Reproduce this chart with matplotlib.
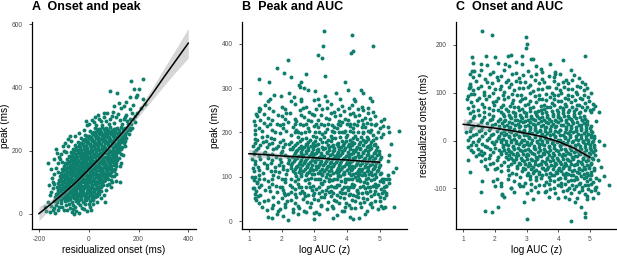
import numpy as np
import matplotlib
matplotlib.use("Agg")
import matplotlib.pyplot as plt

plt.rcParams['font.family'] = ['Liberation Sans', 'DejaVu Sans']
plt.rcParams['axes.unicode_minus'] = False

# ---------------- data ----------------
titles = ["A  Onset and peak", "B  Peak and AUC", "C  Onset and AUC"]
xlabels = ["residualized onset (ms)", "log AUC (z)", "log AUC (z)"]
ylabels = ["peak (ms)", "peak (ms)", "residualized onset (ms)"]

# Panel A: (residualized onset, peak)
onset_peak_A = [
 (-140,41),(-126,38),(-111,43),(-97,39),(-82,42),(-68,37),(-53,41),(-39,44),(-24,38),(-10,42),(5,39),(19,44),
 (-134,52),(-119,49),(-104,54),(-90,50),(-75,53),(-61,48),(-46,52),(-32,55),(-17,50),(-3,53),(12,49),(27,52),
 (-131,63),(-116,60),(-101,65),(-87,61),(-72,64),(-58,59),(-43,63),(-29,66),(-14,61),(0,64),(15,60),(30,63),(42,61),
 (-125,74),(-110,71),(-95,76),(-81,72),(-66,75),(-52,70),(-37,74),(-23,77),(-8,72),(6,75),(21,71),(36,74),(48,72),
 (-128,85),(-113,82),(-98,87),(-84,83),(-69,86),(-55,81),(-40,85),(-26,88),(-11,83),(3,86),(18,82),(33,85),(50,83),
 (-122,96),(-107,93),(-92,98),(-78,94),(-63,97),(-49,92),(-34,96),(-20,99),(-5,94),(9,97),(24,93),(39,96),(55,94),
 (-120,107),(-105,104),(-90,109),(-76,105),(-61,108),(-47,103),(-32,107),(-18,110),(-3,105),(11,108),(26,104),(41,107),(56,105),(66,108),
 (-116,118),(-101,115),(-86,120),(-72,116),(-57,119),(-43,114),(-28,118),(-14,121),(1,116),(15,119),(30,115),(45,118),(60,116),(73,119),
 (-112,129),(-97,126),(-82,131),(-68,127),(-53,130),(-39,125),(-24,129),(-10,132),(5,127),(19,130),(34,126),(49,129),(64,127),(79,130),
 (-106,140),(-91,137),(-76,142),(-62,138),(-47,141),(-33,136),(-18,140),(-4,143),(11,138),(25,141),(40,137),(55,140),(70,138),(85,141),
 (-100,151),(-85,148),(-70,153),(-56,149),(-41,152),(-27,147),(-12,151),(2,154),(17,149),(31,152),(46,148),(61,151),(76,149),(90,152),
 (-95,162),(-80,159),(-65,164),(-51,160),(-36,163),(-22,158),(-7,162),(7,165),(22,160),(36,163),(51,159),(66,162),(81,160),(96,163),
 (-88,173),(-73,170),(-58,175),(-44,171),(-29,174),(-15,169),(0,173),(14,176),(29,171),(43,174),(58,170),(73,173),(88,171),(101,174),
 (-80,184),(-65,181),(-50,186),(-36,182),(-21,185),(-7,180),(8,184),(22,187),(37,182),(51,185),(66,181),(81,184),(96,182),(108,185),
 (-73,195),(-58,192),(-43,197),(-29,193),(-14,196),(0,191),(15,195),(29,198),(44,193),(58,196),(73,192),(88,195),(103,193),(113,196),
 (-64,206),(-49,203),(-34,208),(-20,204),(-5,207),(9,202),(24,206),(38,209),(53,204),(67,207),(82,203),(97,206),(112,204),
 (-55,217),(-40,214),(-25,219),(-11,215),(4,218),(18,213),(33,217),(47,220),(62,215),(76,218),(91,214),(106,217),(121,215),
 (-45,228),(-30,225),(-15,230),(-1,226),(14,229),(28,224),(43,228),(57,231),(72,226),(86,229),(101,225),(116,228),(130,226),
 (-30,239),(-15,236),(0,241),(14,237),(29,240),(43,235),(58,239),(72,242),(87,237),(101,240),(116,236),(131,239),
 (-14,250),(1,247),(16,252),(30,248),(45,251),(59,246),(74,250),(88,253),(103,248),(117,251),(132,247),(145,250),
 (5,261),(20,258),(35,263),(49,259),(64,262),(78,257),(93,261),(107,264),(122,259),(138,262),(150,258),
 (25,272),(40,269),(55,274),(70,270),(85,273),(100,268),(115,272),(130,275),(145,270),(158,273),
 (-133,47),(-118,45),(-104,48),(-89,44),(-75,46),(-60,49),(-46,45),(-31,47),(-17,44),(-2,48),(12,46),
 (-127,58),(-112,56),(-97,59),(-83,55),(-68,57),(-54,60),(-39,56),(-25,58),(-10,55),(4,59),(19,57),(34,56),
 (-124,69),(-109,67),(-94,70),(-80,66),(-65,68),(-51,71),(-36,67),(-22,69),(-7,66),(8,70),(22,68),(37,67),
 (-120,80),(-105,78),(-90,81),(-76,77),(-61,79),(-47,82),(-32,78),(-18,80),(-3,77),(11,81),(26,79),(42,78),
 (-118,91),(-103,89),(-88,92),(-74,88),(-59,90),(-45,93),(-30,89),(-16,91),(-1,88),(13,92),(28,90),(44,89),(58,91),
 (-114,102),(-99,100),(-84,103),(-70,99),(-55,101),(-41,104),(-26,100),(-12,102),(3,99),(17,103),(32,101),(47,100),(62,102),
 (-110,113),(-95,111),(-80,114),(-66,110),(-51,112),(-37,115),(-22,111),(-8,113),(7,110),(21,114),(36,112),(51,111),(66,113),(78,110),
 (-106,124),(-91,122),(-76,125),(-62,121),(-47,123),(-33,126),(-18,122),(-4,124),(11,121),(25,125),(40,123),(55,122),(70,124),(84,121),
 (-102,135),(-87,133),(-72,136),(-58,132),(-43,134),(-29,137),(-14,133),(0,135),(15,132),(29,136),(44,134),(59,133),(74,135),(88,132),
 (-96,146),(-81,144),(-66,147),(-52,143),(-37,145),(-23,148),(-8,144),(6,146),(21,143),(35,147),(50,145),(65,144),(80,146),(94,143),
 (-90,157),(-75,155),(-60,158),(-46,154),(-31,156),(-17,159),(-2,155),(12,157),(27,154),(41,158),(56,156),(71,155),(86,157),(100,154),
 (-84,168),(-69,166),(-54,169),(-40,165),(-25,167),(-11,170),(4,166),(18,168),(33,165),(47,169),(62,167),(77,166),(92,168),(104,165),
 (-77,179),(-62,177),(-47,180),(-33,176),(-18,178),(-4,181),(11,177),(25,179),(40,176),(54,180),(69,178),(84,177),(99,179),(110,176),
 (-68,190),(-53,188),(-38,191),(-24,187),(-9,189),(5,192),(20,188),(34,190),(49,187),(63,191),(78,189),(93,188),(107,190),
 (-60,201),(-45,199),(-30,202),(-16,198),(-1,200),(13,203),(28,199),(42,201),(57,198),(71,202),(86,200),(101,199),(116,201),
 (-50,212),(-35,210),(-20,213),(-6,209),(9,211),(23,214),(38,210),(52,212),(67,209),(81,213),(96,211),(111,210),(124,212),
 (-38,223),(-23,221),(-8,224),(6,220),(21,222),(35,225),(50,221),(64,223),(79,220),(93,224),(108,222),(123,221),
 (-22,234),(-7,232),(8,235),(22,231),(37,233),(51,236),(66,232),(80,234),(95,231),(109,235),(124,233),(137,232),
 (-6,245),(9,243),(24,246),(38,242),(53,244),(67,247),(82,243),(96,245),(111,242),(125,246),(139,244),
 (12,256),(27,254),(42,257),(56,253),(71,255),(85,258),(100,254),(114,256),(129,253),(143,257),
 (32,267),(47,265),(62,268),(77,264),(92,266),(107,269),(122,265),(137,267),(152,264),
 (-170,8),(-156,6),(-139,17),(-123,12),(-150,24),(-106,20),(-89,12),(-69,6),(-55,22),(-35,28),(-163,36),
 (35,38),(64,38),(48,50),(60,60),(70,75),(91,86),(111,102),(80,95),(111,125),(100,118),(104,140),(111,160),
 (124,150),(120,175),(130,190),(135,210),(140,225),(150,240),(160,252),(165,265),(175,270),(170,285),(178,300),
 (185,310),(-163,160),(-127,192),(-83,213),(-100,200),(-149,112),(-123,133),(-140,95),(-145,80),(-155,60),
 (-115,172),(-108,165),(-70,230),(-55,245),(-40,255),(-20,265),(-5,280),(20,290),(37,313),(60,305),(50,295),
 (85,300),(110,305),(125,298),(140,300),(155,292),(97,322),(128,335),(148,313),(164,330),(172,318),(84,387),
 (113,382),(167,371),(190,368),(220,363),(228,347),(183,395),(201,395),(168,421),(217,428),(-60,0),(-40,2),
 (-20,15),(0,30),(-175,20),
 (-145,12),(-132,28),(-118,20),(-112,33),(-98,10),(-92,26),(-80,32),(-76,18),(-62,28),(-50,8),(-45,33),(-28,18),
 (-15,30),(-8,8),(5,22),(18,30),(-135,2),(-65,15),(10,12),
 (-150,70),(-142,100),(-138,125),(-132,145),(-125,160),(-118,180),(-110,190),(-102,215),(-95,225),(-90,195),
 (-160,90),(-150,140),(-140,172),(-85,235),(-75,245),(-130,205),
 (0,285),(15,298),(30,280),(42,300),(55,282),(68,292),(80,283),(92,310),(102,288),(118,315),(132,285),(145,305),
 (158,285),(165,300),(185,290),(195,320),(210,335),(75,320),(-10,295),(25,305),(60,320),(120,350),(140,340),
 (100,340),(178,345),(195,375),(150,355),
 (95,120),(100,135),(108,150),(115,170),(122,195),(128,205),(130,240),(145,230),(150,260),(160,270),(120,250),
 (125,100),(88,108),(75,90),(92,100),(130,160),(138,185),(145,215),
]

# Panel B: (log AUC, peak)
auc_peak_B = [
 (3.30,429),(3.28,395),(4.17,420),(4.19,383),(4.14,380),(4.81,394),(3.11,374),(3.23,368),(2.19,363),(1.86,345),
 (2.06,335),(3.32,327),(2.74,332),(1.30,321),(2.29,324),(2.59,313),(1.61,314),(3.94,313),(2.56,302),(2.52,307),
 (2.22,290),(1.34,290),(2.70,300),(2.82,296),(3.02,294),(3.68,290),(4.03,296),(4.44,296),(4.48,289),(3.32,283),
 (1.76,285),(1.99,283),(2.39,281),(2.58,270),(3.13,276),(4.21,276),(4.78,270),(1.30,255),(1.34,252),(1.32,249),
 (1.60,270),(1.57,10),(1.72,8),(1.87,15),(2.20,2),(2.05,11),(3.00,4),(2.99,18),(3.15,17),(3.56,8),(4.19,4),
 (4.36,8),(5.16,32),(5.45,33),(1.23,47),(1.18,61),(1.13,74),(1.25,87),(5.59,204),(5.50,120),(5.21,80),(2.50,15),
 (2.75,20),(3.70,14),(3.90,22),(4.55,16),(4.10,10),(2.35,20),(1.95,28),(5.30,150),(5.35,175),(5.25,135),(5.40,110),
 (5.30,95),(5.20,60),(5.28,200),(5.15,230),(1.10,100),(1.12,120),(1.10,140),(1.15,155),(1.12,170),(1.18,185),
 (1.20,205),(1.15,225),(1.22,242),
 (1.55,26),(1.90,22),(2.35,28),(2.70,24),(3.05,21),(3.40,27),(3.85,23),(4.25,29),(4.60,24),(4.95,27),
 (1.40,32),(1.72,30),(2.12,33),(2.52,29),(2.88,31),(3.22,34),(3.58,30),(3.95,32),(4.12,29),(4.42,33),(4.78,31),(5.10,30),
 (1.30,40),(1.75,36),(2.10,39),(2.50,35),(2.90,41),(3.20,37),(3.55,34),(3.75,40),(4.05,36),(4.40,42),(4.70,38),(5.05,35),
 (1.45,45),(1.90,43),(2.18,46),(2.42,42),(2.78,44),(3.10,47),(3.42,43),(3.68,45),(3.98,42),(4.25,46),(4.52,44),(4.75,41),(5.00,45),
 (1.20,52),(1.60,48),(2.00,53),(2.30,47),(2.65,51),(3.00,49),(3.30,54),(3.60,47),(3.90,52),(4.15,48),(4.35,55),(4.60,50),(4.85,46),(5.15,52),
 (1.28,57),(1.75,55),(2.12,58),(2.45,54),(2.72,56),(2.95,59),(3.22,55),(3.50,57),(3.80,54),(4.05,58),(4.28,56),(4.50,53),(4.75,57),(5.00,55),
 (1.35,60),(1.85,65),(2.20,61),(2.55,64),(2.80,59),(3.15,63),(3.45,66),(3.70,60),(3.95,64),(4.20,58),(4.45,63),(4.70,67),(4.95,61),(5.20,64),
 (2.08,63),(2.40,62),(2.68,64),(3.00,63),(3.32,62),(3.58,64),(3.85,63),(4.10,62),(4.35,64),(4.60,63),(4.82,62),(5.08,64),
 (1.22,69),(1.65,67),(2.05,70),(2.30,66),(2.62,68),(2.92,71),(3.25,67),(3.52,69),(3.78,66),(4.02,70),(4.32,68),(4.58,65),(4.85,69),(5.12,67),
 (1.15,75),(1.50,71),(1.95,76),(2.40,72),(2.75,77),(3.05,73),(3.35,70),(3.60,76),(3.85,72),(4.10,78),(4.30,71),(4.55,75),(4.80,79),(5.05,73),
 (1.30,77),(1.62,78),(2.02,77),(2.33,76),(2.52,78),(2.88,77),(3.15,76),(3.42,78),(3.68,77),(3.92,76),(4.18,78),(4.40,77),(4.65,76),(4.90,78),(5.15,77),
 (1.38,81),(1.82,79),(2.25,82),(2.60,78),(2.95,80),(3.25,83),(3.50,79),(3.75,81),(4.00,78),(4.22,82),(4.48,80),(4.70,77),(4.95,81),(5.20,79),
 (1.25,88),(1.70,84),(2.10,89),(2.50,83),(2.85,87),(3.20,85),(3.45,90),(3.70,82),(3.95,88),(4.15,84),(4.40,91),(4.60,86),(4.85,83),(5.10,89),(5.30,85),
 (1.15,93),(1.58,91),(2.00,94),(2.40,90),(2.72,92),(3.02,95),(3.30,91),(3.55,93),(3.82,90),(4.05,94),(4.30,92),(4.52,89),(4.75,93),(5.00,91),(5.22,94),
 (1.32,95),(1.70,96),(2.12,95),(2.50,94),(2.82,96),(3.18,95),(3.45,94),(3.70,96),(3.95,95),(4.15,94),(4.38,96),(4.58,95),(4.82,94),(5.08,96),
 (1.20,99),(1.45,95),(1.90,100),(2.30,96),(2.60,101),(2.90,97),(3.10,94),(3.35,100),(3.60,96),(3.80,102),(4.00,95),(4.25,99),(4.45,103),(4.65,97),(4.90,100),(5.15,95),
 (1.32,105),(1.75,103),(2.15,106),(2.45,102),(2.75,104),(3.00,107),(3.25,103),(3.48,105),(3.72,102),(3.92,106),(4.12,104),(4.35,101),(4.55,105),(4.78,103),(5.02,106),(5.25,104),
 (2.42,108),(2.60,107),(2.78,108),(2.92,106),(3.10,108),(3.25,107),(3.40,106),(3.58,108),(3.72,107),(3.88,106),(4.05,108),(4.20,107),(4.38,106),(4.52,108),(4.68,107),(4.85,106),(5.05,108),
 (1.15,112),(1.42,108),(1.68,114),(1.92,110),(2.17,116),(1.28,123),(1.55,127),(1.80,121),(2.05,125),(2.30,120),
 (1.18,135),(1.45,132),(1.70,138),(1.97,134),(2.22,137),(1.32,147),(1.58,150),(1.83,145),(2.10,149),
 (1.22,160),(1.48,157),(1.75,162),(2.00,159),(2.25,163),(1.35,171),(1.62,174),(1.88,169),(2.12,173),
 (1.25,184),(1.52,181),(1.78,186),(2.05,183),(2.30,179),
 (1.30,116),(1.55,119),(1.80,113),(2.05,117),(1.20,129),(1.68,131),(1.92,127),(2.20,130),(1.35,141),(1.60,143),
 (1.95,141),(2.20,144),(1.15,152),(1.45,154),(1.72,151),(1.98,153),(1.28,166),(1.55,168),(1.82,165),(2.05,167),
 (1.18,177),(1.42,179),(1.70,176),(1.95,178),(2.22,175),(1.40,190),(1.68,188),
 (2.50,189),(2.75,188),(3.05,190),(3.30,189),(3.55,188),(3.78,190),(3.98,189),(4.20,188),(4.42,190),(4.62,189),(4.88,188),(5.05,190),
 (1.20,196),(1.55,192),(1.95,198),(2.30,194),(2.60,199),(2.95,191),(3.25,197),(3.50,193),(3.75,200),(4.00,195),(4.25,191),(4.50,198),(4.80,194),(5.10,197),
 (2.42,201),(2.72,200),(3.02,202),(3.32,201),(3.62,200),(3.92,202),(4.18,201),(4.48,200),(4.72,202),
 (1.40,203),(1.80,201),(2.15,204),(2.50,200),(2.85,203),(3.15,201),(3.55,204),(3.85,200),(4.10,203),(4.35,201),(4.65,204),(4.95,200),
 (1.30,210),(1.70,206),(2.05,211),(2.45,205),(2.80,209),(3.10,213),(3.40,207),(3.70,211),(3.95,204),(4.20,209),(4.45,212),(4.75,206),(5.00,210),(5.25,213),
 (1.20,216),(1.55,214),(1.95,217),(2.35,213),(2.65,216),(3.00,214),(3.30,217),(3.62,213),(3.80,216),(4.08,214),(4.30,217),(4.55,213),(4.85,216),(5.10,214),
 (1.65,219),(2.05,220),(2.40,218),(2.75,220),(3.05,219),(3.42,218),(3.72,220),(4.00,219),(4.22,218),(4.50,220),(4.75,219),
 (1.45,222),(1.85,218),(2.20,224),(2.55,219),(2.90,225),(3.20,220),(3.55,217),(3.85,223),(4.10,219),(4.35,226),(4.60,221),(4.90,218),
 (1.35,229),(1.72,227),(2.10,230),(2.45,226),(2.80,229),(3.10,227),(3.45,230),(3.75,226),(4.02,229),(4.45,227),(4.72,230),(5.05,226),
 (1.25,236),(1.60,232),(2.00,237),(2.40,231),(2.70,235),(3.00,239),(3.35,233),(3.65,237),(3.95,230),(4.25,236),(4.55,233),(4.85,238),
 (1.45,242),(1.90,240),(2.25,243),(2.60,239),(2.92,242),(3.20,240),(3.50,243),(3.80,239),(4.10,242),(4.38,240),(4.65,243),
 (1.75,249),(2.15,244),(2.55,250),(2.85,246),(3.25,252),(3.60,245),(3.90,249),(4.20,243),(4.50,250),(4.80,247),
 (1.62,255),(2.10,253),(2.65,256),(3.05,252),(3.40,255),(3.72,253),(4.05,256),(4.35,252),(4.65,255),
 (1.50,262),(2.00,258),(2.40,263),(2.75,257),(3.15,261),(3.50,264),(3.85,259),(4.15,262),(4.45,258),
 (1.65,275),(2.30,271),(2.60,276),(3.00,273),(3.40,270),(3.80,276),(4.25,272),(4.70,277),
 (2.35,113),(2.54,110),(2.65,114),(2.84,111),(2.96,115),(3.17,109),(3.31,112),(3.46,114),(3.66,110),(3.77,113),(3.92,111),(4.13,115),(4.27,109),(4.42,112),(4.62,114),(4.73,110),(4.91,113),
 (2.41,117),(2.55,115),(2.73,118),(2.87,116),(3.05,117),(3.19,114),(3.37,118),(3.51,116),(3.69,115),(3.83,117),(4.01,116),(4.15,118),(4.33,114),(4.47,117),(4.65,115),(4.79,118),(4.95,116),
 (2.45,122),(2.57,119),(2.78,123),(2.90,120),(3.04,124),(3.25,118),(3.39,121),(3.52,123),(3.73,119),(3.86,122),(4.05,120),(4.17,124),(4.36,118),(4.54,121),(4.65,123),(4.84,119),(4.97,122),
 (2.30,126),(2.47,124),(2.62,127),(2.79,125),(2.94,126),(3.11,123),(3.26,127),(3.43,125),(3.58,124),(3.75,126),(3.90,125),(4.07,127),(4.22,123),(4.39,126),(4.54,124),(4.71,127),(4.86,125),(5.02,126),
 (2.33,131),(2.52,128),(2.69,132),(2.81,129),(3.01,133),(3.14,127),(3.34,130),(3.48,132),(3.61,128),(3.80,131),(3.97,129),(4.09,133),(4.29,127),(4.45,130),(4.57,132),(4.77,128),(4.90,131),
 (2.39,135),(2.55,133),(2.71,136),(2.87,134),(3.03,135),(3.19,132),(3.35,136),(3.51,134),(3.67,133),(3.83,135),(3.99,134),(4.15,136),(4.31,132),(4.47,135),(4.63,133),(4.79,136),(4.95,134),
 (2.41,140),(2.61,137),(2.74,141),(2.93,138),(3.06,142),(3.21,136),(3.41,139),(3.54,141),(3.70,137),(3.89,140),(4.02,138),(4.20,142),(4.33,136),(4.52,139),(4.68,141),(4.81,137),(5.00,140),
 (2.31,144),(2.46,142),(2.63,145),(2.78,143),(2.95,144),(3.10,141),(3.27,145),(3.42,143),(3.59,142),(3.74,144),(3.91,143),(4.06,145),(4.23,141),(4.38,144),(4.55,142),(4.70,145),(4.87,143),(5.03,144),
 (2.37,149),(2.50,146),(2.66,150),(2.85,147),(2.98,151),(3.16,145),(3.30,148),(3.49,150),(3.64,146),(3.78,149),(3.96,147),(4.12,151),(4.26,145),(4.44,148),(4.60,150),(4.76,146),(4.93,149),
 (2.42,153),(2.58,151),(2.74,154),(2.90,152),(3.06,153),(3.22,150),(3.38,154),(3.54,152),(3.70,151),(3.86,153),(4.02,152),(4.18,154),(4.34,150),(4.50,153),(4.66,151),(4.82,154),(4.97,152),
 (2.44,158),(2.58,155),(2.76,159),(2.92,156),(3.08,160),(3.22,154),(3.38,157),(3.56,159),(3.72,155),(3.85,158),(4.04,156),(4.18,160),(4.34,154),(4.50,157),(4.66,159),(4.85,155),(4.98,158),
 (2.32,162),(2.48,160),(2.64,163),(2.80,161),(2.96,162),(3.12,159),(3.28,163),(3.44,161),(3.60,160),(3.76,162),(3.92,161),(4.08,163),(4.24,159),(4.40,162),(4.56,160),(4.72,163),(4.88,161),
 (2.36,167),(2.53,164),(2.68,168),(2.82,165),(3.00,169),(3.13,163),(3.32,166),(3.45,168),(3.62,164),(3.81,167),(3.94,165),(4.10,169),(4.28,163),(4.41,166),(4.61,168),(4.74,164),(4.92,167),
 (2.41,171),(2.60,169),(2.78,172),(2.90,170),(3.06,171),(3.24,168),(3.42,172),(3.55,170),(3.74,169),(3.88,171),(4.03,170),(4.16,172),(4.32,168),(4.50,171),(4.66,169),(4.82,172),
 (2.47,176),(2.74,173),(2.95,177),(3.10,174),(3.37,178),(3.58,172),(3.69,175),(3.91,177),(4.06,173),(4.22,176),(4.38,174),(4.56,178),(4.70,172),(4.87,175),
 (2.55,180),(2.80,178),(3.02,181),(3.25,179),(3.50,180),(3.72,177),(3.96,181),(4.16,179),(4.40,178),(4.58,180),(4.75,179),
 (2.62,185),(2.88,182),(3.18,186),(3.42,183),(3.65,187),(3.84,181),(4.08,184),(4.31,186),(4.48,182),(4.64,185),(4.79,183),
]

# Panel C: (log AUC, residualized onset)
auc_onset_C = [
 (1.58,230),(1.91,221),(2.99,217),(3.00,202),(2.98,194),(1.29,175),(1.71,176),(2.00,174),(2.40,177),(2.52,179),
 (2.84,177),(3.13,170),(3.20,170),(4.15,169),(4.83,176),(1.28,146),(1.34,145),(3.50,144),(3.91,140),(2.31,160),
 (1.55,160),(2.65,165),(1.20,115),(1.18,110),(1.25,97),
 (3.02,-164),(4.39,-168),(4.83,-152),(4.84,-159),(1.70,-147),(1.92,-150),(2.10,-140),(2.91,-128),(1.56,-108),
 (2.21,-111),(2.23,-114),(5.61,-92),(5.46,-75),(5.36,-55),(5.20,-97),(4.92,-123),(4.72,-139),(4.52,-128),(4.34,-122),
 (4.00,-120),(4.20,-118),(3.57,-108),(3.36,-108),(3.15,-91),(1.95,-85),(2.05,-80),(1.75,-60),(1.20,-65),(1.15,-40),
 (1.25,-10),(1.60,-30),(2.20,-95),(2.50,-100),(2.80,-95),(5.20,40),(5.30,60),(5.15,-20),(5.25,-40),(5.10,65),(5.45,-10),(5.30,0),
 (1.30,162),(1.75,158),(2.10,163),(2.45,157),(2.85,161),(3.30,156),(3.75,160),
 (1.55,147),(1.95,143),(2.30,148),(2.65,142),(3.05,146),(3.45,149),(3.90,144),(4.40,147),
 (1.20,139),(1.50,137),(1.85,140),(2.20,136),(2.55,139),(2.90,137),(3.30,140),(3.70,136),(4.05,139),(4.50,137),
 (1.30,132),(1.70,128),(2.05,133),(2.40,127),(2.75,131),(3.15,135),(3.50,129),(3.85,133),(4.25,127),(4.65,131),
 (1.40,125),(1.75,123),(2.10,126),(2.35,122),(2.65,125),(2.95,123),(3.25,126),(3.55,122),(3.85,125),(4.15,123),(4.45,126),(4.75,122),
 (1.20,119),(1.55,115),(1.90,120),(2.20,114),(2.50,118),(2.80,122),(3.10,116),(3.40,120),(3.70,113),(4.00,118),(4.30,121),(4.60,115),(4.85,119),
 (1.20,111),(1.45,109),(1.80,112),(2.15,108),(2.45,111),(2.75,109),(3.05,112),(3.35,108),(3.65,111),(3.92,109),(4.18,112),(4.42,108),(4.68,111),(4.92,109),
 (1.30,106),(1.65,102),(2.00,107),(2.30,101),(2.60,105),(2.90,109),(3.20,103),(3.50,107),(3.80,100),(4.05,105),(4.30,108),(4.55,102),(4.80,106),
 (1.35,98),(1.65,96),(1.95,99),(2.25,95),(2.55,98),(2.82,96),(3.10,99),(3.38,95),(3.62,98),(3.88,96),(4.10,99),(4.32,95),(4.58,98),(4.82,96),(5.05,99),
 (1.15,93),(1.50,89),(1.80,94),(2.10,88),(2.40,92),(2.70,96),(2.95,90),(3.25,94),(3.50,87),(3.75,92),(4.00,95),(4.20,89),(4.45,93),(4.70,88),(4.95,92),
 (1.12,86),(1.42,84),(1.72,87),(2.02,83),(2.30,86),(2.58,84),(2.85,87),(3.12,83),(3.38,86),(3.62,84),(3.88,87),(4.10,83),(4.30,86),(4.52,84),(4.75,87),(4.98,83),
 (1.25,80),(1.60,76),(1.95,81),(2.25,75),(2.55,79),(2.80,83),(3.05,77),(3.30,81),(3.55,74),(3.80,79),(4.00,82),(4.20,76),(4.40,80),(4.60,75),(4.85,79),(5.10,77),
 (1.32,73),(1.65,71),(1.98,74),(2.20,70),(2.48,73),(2.72,71),(2.95,74),(3.20,70),(3.45,73),(3.65,71),(3.85,74),(4.05,70),(4.25,73),(4.45,71),(4.65,74),(4.90,70),(5.15,73),
 (1.15,68),(1.45,64),(1.80,69),(2.10,63),(2.35,67),(2.60,71),(2.85,65),(3.10,69),(3.35,62),(3.55,67),(3.75,70),(3.95,64),(4.15,68),(4.35,63),(4.55,67),(4.75,70),(5.00,64),
 (1.30,62),(1.65,60),(1.95,63),(2.20,59),(2.40,62),(2.58,60),(2.75,63),(2.92,59),(3.10,62),(3.28,60),(3.45,63),(3.62,59),(3.80,62),(3.98,60),(4.15,63),(4.32,59),(4.50,62),(4.68,60),(4.85,63),(5.05,59),
 (1.20,57),(1.50,53),(1.80,56),(2.25,56),(2.45,53),(2.62,57),(2.80,54),(2.97,58),(3.15,52),(3.30,55),(3.48,57),(3.65,53),(3.82,56),(3.98,54),(4.15,58),(4.32,52),(4.50,55),(4.66,57),
 (1.35,51),(1.65,49),(1.95,52),(2.30,51),(2.47,49),(2.64,52),(2.81,50),(2.98,51),(3.15,48),(3.32,52),(3.49,50),(3.66,49),(3.83,51),(4.00,50),(4.17,52),(4.34,48),(4.51,51),(4.68,49),(4.80,52),
 (1.30,47),(1.60,43),(1.90,46),(2.16,46),(2.33,43),(2.50,47),(2.70,44),(2.86,48),(3.05,42),(3.21,45),(3.38,47),(3.56,43),(3.72,46),(3.90,44),(4.06,48),(4.23,42),(4.40,45),(4.57,47),(4.74,43),(4.85,46),
 (1.20,41),(1.55,39),(1.85,42),(2.10,40),(2.28,41),(2.45,39),(2.62,42),(2.78,40),(2.95,41),(3.12,38),(3.28,42),(3.45,40),(3.60,39),(3.77,41),(3.93,40),(4.10,42),(4.26,38),(4.42,41),(4.58,39),(4.74,42),(4.90,40),
 (1.15,37),(1.45,33),(1.75,36),(2.00,34),(2.22,36),(2.38,33),(2.55,37),(2.72,34),(2.88,38),(3.03,32),(3.20,35),(3.35,37),(3.52,33),(3.68,36),(3.83,34),(4.00,38),(4.16,32),(4.32,35),(4.48,37),(4.64,33),(4.80,36),(4.92,34),
 (1.30,31),(1.60,29),(1.90,32),(2.14,30),(2.30,31),(2.47,29),(2.63,32),(2.80,30),(2.96,31),(3.12,28),(3.28,32),(3.44,30),(3.60,29),(3.76,31),(3.92,30),(4.08,32),(4.24,28),(4.40,31),(4.56,29),(4.72,32),(4.88,30),(5.02,31),
 (1.25,27),(1.55,23),(1.85,26),(2.12,26),(2.28,23),(2.45,27),(2.60,24),(2.77,28),(2.93,22),(3.10,25),(3.26,27),(3.42,23),(3.58,26),(3.75,24),(3.90,28),(4.07,22),(4.23,25),(4.40,27),(4.55,23),(4.72,26),(4.87,24),(5.00,27),
 (1.20,21),(1.50,19),(1.80,22),(2.05,20),(2.28,21),(2.44,19),(2.60,22),(2.76,20),(2.92,21),(3.08,18),(3.25,22),(3.41,20),(3.58,19),(3.74,21),(3.90,20),(4.06,22),(4.22,18),(4.38,21),(4.55,19),(4.71,22),(4.87,20),(5.02,21),
 (1.10,17),(1.40,13),(1.70,16),(1.95,14),(2.20,16),(2.36,13),(2.52,17),(2.68,14),(2.85,18),(3.00,12),(3.17,15),(3.33,17),(3.50,13),(3.66,16),(3.82,14),(3.98,18),(4.15,12),(4.30,15),(4.47,17),(4.63,13),(4.80,16),(4.95,14),(5.08,17),
 (1.30,11),(1.60,9),(1.88,12),(2.12,10),(2.28,11),(2.44,9),(2.60,12),(2.77,10),(2.93,11),(3.09,8),(3.25,12),(3.41,10),(3.58,9),(3.74,11),(3.90,10),(4.06,12),(4.22,8),(4.38,11),(4.55,9),(4.71,12),(4.87,10),(5.02,11),(5.14,9),
 (1.20,7),(1.50,3),(1.80,6),(2.10,6),(2.27,3),(2.43,7),(2.60,4),(2.76,8),(2.92,2),(3.08,5),(3.25,7),(3.41,3),(3.57,6),(3.74,4),(3.90,8),(4.06,2),(4.22,5),(4.38,7),(4.55,3),(4.71,6),(4.87,4),(5.02,7),(5.12,5),
 (1.15,1),(1.45,-1),(1.75,2),(2.02,0),(2.19,1),(2.35,-1),(2.51,2),(2.68,0),(2.84,1),(3.00,-2),(3.16,2),(3.33,0),(3.49,-1),(3.65,1),(3.82,0),(3.98,2),(4.14,-2),(4.30,1),(4.46,-1),(4.63,2),(4.79,0),(4.95,1),(5.10,-1),
 (1.30,-3),(1.60,-7),(1.90,-4),(2.18,-4),(2.34,-7),(2.50,-3),(2.67,-6),(2.83,-2),(3.00,-8),(3.15,-5),(3.32,-3),(3.48,-7),(3.64,-4),(3.80,-6),(3.96,-2),(4.12,-8),(4.29,-5),(4.45,-3),(4.61,-7),(4.78,-4),(4.93,-6),(5.08,-3),
 (1.40,-9),(1.70,-11),(1.98,-8),(2.26,-10),(2.42,-9),(2.58,-11),(2.75,-8),(2.91,-10),(3.07,-9),(3.23,-12),(3.40,-8),(3.56,-10),(3.72,-11),(3.88,-9),(4.04,-10),(4.20,-8),(4.37,-12),(4.53,-9),(4.69,-11),(4.85,-8),(5.00,-10),(5.14,-9),
 (1.15,-13),(1.45,-17),(1.75,-14),(2.00,-16),(2.25,-14),(2.41,-17),(2.58,-13),(2.74,-16),(2.90,-12),(3.06,-18),(3.23,-15),(3.39,-13),(3.55,-17),(3.72,-14),(3.88,-16),(4.04,-12),(4.20,-18),(4.36,-15),(4.53,-13),(4.69,-17),(4.85,-14),(5.00,-16),(5.13,-13),
 (1.25,-19),(1.55,-21),(1.85,-18),(2.12,-20),(2.28,-19),(2.44,-21),(2.61,-18),(2.78,-20),(2.94,-19),(3.10,-22),(3.26,-18),(3.43,-20),(3.59,-21),(3.75,-19),(3.92,-20),(4.08,-18),(4.24,-22),(4.40,-19),(4.57,-21),(4.73,-18),(4.89,-20),(5.04,-19),
 (1.30,-23),(1.65,-27),(1.95,-24),(2.20,-24),(2.36,-27),(2.52,-23),(2.70,-26),(2.86,-22),(3.02,-28),(3.18,-25),(3.35,-23),(3.51,-27),(3.67,-24),(3.84,-26),(4.00,-22),(4.16,-28),(4.32,-25),(4.49,-23),(4.65,-27),(4.81,-24),(4.96,-26),(5.10,-23),
 (1.50,-29),(1.85,-31),(2.20,-28),(2.43,-30),(2.58,-29),(2.74,-31),(2.90,-28),(3.06,-30),(3.22,-29),(3.38,-32),(3.55,-28),(3.71,-30),(3.87,-31),(4.03,-29),(4.20,-30),(4.36,-28),(4.52,-32),(4.68,-29),(4.85,-31),(5.00,-28),(5.15,-30),
 (1.40,-33),(1.80,-37),(2.10,-34),(2.35,-34),(2.50,-37),(2.66,-33),(2.82,-36),(2.98,-32),(3.14,-38),(3.30,-35),(3.47,-33),(3.63,-37),(3.79,-34),(3.95,-36),(4.12,-32),(4.28,-38),(4.44,-35),(4.60,-33),(4.77,-37),(4.93,-34),(5.07,-36),
 (1.70,-39),(2.05,-41),(2.42,-38),(2.56,-40),(2.68,-39),(2.84,-41),(3.00,-38),(3.16,-40),(3.33,-39),(3.49,-42),(3.65,-38),(3.82,-40),(3.98,-41),(4.14,-39),(4.30,-40),(4.47,-38),(4.63,-42),(4.79,-39),(4.95,-41),(5.10,-38),
 (1.55,-43),(1.95,-47),(2.30,-44),(2.60,-44),(2.76,-47),(2.92,-43),(3.08,-46),(3.25,-42),(3.41,-48),(3.57,-45),(3.73,-43),(3.90,-47),(4.06,-44),(4.22,-46),(4.38,-42),(4.55,-48),(4.71,-45),(4.87,-43),(5.02,-47),
 (1.85,-49),(2.20,-51),(2.50,-48),(2.78,-50),(2.95,-49),(3.12,-51),(3.28,-48),(3.44,-50),(3.60,-49),(3.77,-52),(3.93,-48),(4.09,-50),(4.25,-51),(4.41,-49),(4.58,-50),(4.74,-48),(4.90,-52),(5.05,-49),
 (1.70,-53),(2.05,-57),(2.40,-54),(2.70,-54),(2.88,-57),(3.04,-53),(3.20,-56),(3.36,-52),(3.52,-58),(3.68,-55),(3.85,-53),(4.01,-57),(4.17,-54),(4.33,-56),(4.50,-52),(4.66,-58),(4.82,-55),(4.98,-53),(5.12,-57),
 (2.00,-59),(2.40,-61),(2.70,-58),(2.95,-60),(3.13,-59),(3.30,-61),(3.48,-58),(3.66,-60),(3.83,-59),(4.00,-62),(4.16,-58),(4.33,-60),(4.50,-61),(4.66,-59),(4.83,-60),(4.98,-58),(5.12,-61),
 (2.20,-63),(2.55,-67),(2.85,-64),(3.05,-67),(3.22,-63),(3.40,-66),(3.58,-62),(3.75,-68),(3.92,-65),(4.08,-63),(4.25,-67),(4.42,-64),(4.58,-66),(4.75,-62),(4.90,-68),(5.05,-65),
 (2.65,-69),(3.00,-71),(3.20,-68),(3.40,-70),(3.60,-69),(3.79,-71),(3.97,-68),(4.14,-70),(4.31,-69),(4.48,-72),(4.64,-68),(4.80,-70),(4.95,-71),
 (2.45,-73),(2.80,-77),(3.10,-74),(3.30,-77),(3.50,-73),(3.70,-76),(3.88,-72),(4.05,-78),(4.22,-75),(4.40,-73),(4.56,-77),(4.72,-74),(4.88,-76),(5.02,-72),
 (2.40,-80),(3.10,-81),(3.45,-79),(3.75,-82),(3.98,-80),(4.20,-78),(4.40,-82),(4.60,-80),(4.80,-79),(5.00,-81),(5.20,-78),
 (1.60,-84),(2.20,-88),(2.60,-85),(2.95,-89),(3.30,-83),(3.60,-87),(3.85,-84),(4.10,-89),(4.30,-85),(4.50,-82),(4.70,-88),(4.90,-84),(5.10,-87),(5.30,-83),
 (2.75,-91),(3.40,-93),(3.70,-90),(3.98,-92),(4.22,-91),(4.45,-93),(4.65,-90),(4.85,-92),(5.05,-91),
 (2.00,-96),(2.50,-99),(2.90,-95),(3.25,-98),(3.55,-94),(3.85,-99),(4.10,-96),(4.35,-100),(4.55,-95),(4.75,-98),(4.95,-94),(5.15,-99),
 (3.15,-103),(3.75,-102),(4.28,-104),(4.50,-101),(4.75,-104),(4.95,-102),(5.15,-103),
 (2.60,-107),(3.00,-110),(3.60,-106),(3.90,-109),(4.15,-105),(4.40,-110),(4.65,-107),(4.85,-111),(5.05,-106),(5.25,-109),
 (2.30,-119),(3.20,-122),(3.70,-118),(4.60,-121),(4.90,-117),(5.10,-120),
]

# smooth fits: x, fitted value, half-width of band
fitA_x = [-200, -150, -100, -50, 0, 50, 100, 150, 200, 250, 300, 350, 400]
fitA_y = [0, 32, 65, 100, 140, 180, 225, 270, 320, 373, 430, 485, 540]
fitA_se = [22, 14, 8, 5, 5, 6, 7, 9, 12, 18, 27, 36, 47]

fitB_x = [1, 1.5, 2, 2.5, 3, 3.5, 4, 4.5, 5]
fitB_y = [152, 150, 147, 145, 143, 140, 138, 135, 133]
fitB_se = [10, 7, 5, 4, 3, 3, 3, 4, 5]

fitC_x = [1, 1.5, 2, 2.5, 3, 3.5, 4, 4.5, 5]
fitC_y = [34, 30, 26, 21, 15, 8, -2, -16, -35]
fitC_se = [12, 8, 5, 4, 3, 3, 4, 5, 7]

# ---------------- drawing ----------------
W, H = 617, 256
fig = plt.figure(figsize=(W / 100, H / 100), dpi=100)

boxes = [(32, 196), (241.7, 406.7), (456, 616.5)]
top_px, bot_px = 22, 229
limits = [((-228, 431), (-48.6, 607)),
          ((0.78, 5.83), (-17.7, 449)),
          ((0.77, 5.84), (-185, 248))]
xticks = [[-200, 0, 200, 400], [1, 2, 3, 4, 5], [1, 2, 3, 4, 5]]
yticks = [[0, 200, 400, 600], [0, 100, 200, 300, 400], [-100, 0, 100, 200]]
ylabel_x = [5, 215, 424]

point_color = "#0E7F6D"
band_color = "#999999"

datasets = [onset_peak_A, auc_peak_B, auc_onset_C]
fits = [(fitA_x, fitA_y, fitA_se), (fitB_x, fitB_y, fitB_se), (fitC_x, fitC_y, fitC_se)]

for i in range(3):
    l, r = boxes[i]
    ax = fig.add_axes([l / W, 1 - bot_px / H, (r - l) / W, (bot_px - top_px) / H])
    pts = np.array(datasets[i], dtype=float)
    ax.scatter(pts[:, 0], pts[:, 1], s=8.0, color=point_color, linewidths=0, zorder=2)
    fx, fy, fs = (np.array(a, dtype=float) for a in fits[i])
    ax.fill_between(fx, fy - fs, fy + fs, color=band_color, alpha=0.4, linewidth=0, zorder=3)
    ax.plot(fx, fy, color="black", linewidth=1.1, zorder=4)

    ax.set_xlim(*limits[i][0])
    ax.set_ylim(*limits[i][1])
    ax.set_xticks(xticks[i])
    ax.set_yticks(yticks[i])
    for s in ("top", "right"):
        ax.spines[s].set_visible(False)
    for s in ("left", "bottom"):
        ax.spines[s].set_linewidth(0.9)
        ax.spines[s].set_color("black")
    ax.tick_params(axis="both", length=2.2, width=0.6, color="#333333",
                   labelsize=4.8, labelcolor="#4D4D4D")
    ax.tick_params(axis="y", pad=4.5)
    ax.tick_params(axis="x", pad=3.0)

    ax.set_xlabel(xlabels[i], fontsize=7.2, va="center")
    ax.xaxis.set_label_coords(0.5, (bot_px - 250) / (bot_px - top_px))
    ax.set_ylabel(ylabels[i], fontsize=7.2, va="center", ha="center")
    ax.yaxis.set_label_coords((ylabel_x[i] - l) / (r - l), 0.5)

    fig.text(l / W, 1 - 10 / H, titles[i], fontsize=9, fontweight="bold",
             ha="left", va="baseline")

fig.savefig("out.png", dpi=100)
